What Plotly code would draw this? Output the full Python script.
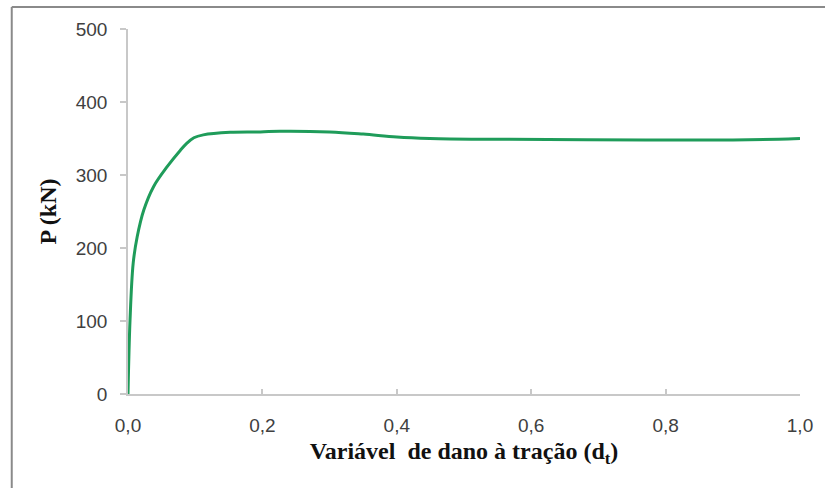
import plotly.graph_objects as go

# Data
dano = [0, 0.003, 0.0077, 0.0136, 0.0235, 0.038, 0.058, 0.078, 0.087, 0.098, 0.112,
        0.152, 0.197, 0.226, 0.30, 0.35, 0.40, 0.449, 0.523, 0.567, 0.77,
        0.90, 0.968, 1.0]
carga = [0, 101, 179, 215, 252, 284, 311, 334, 343, 351, 355,
         358.5, 359, 360, 359, 356, 352, 350, 349, 349, 348,
         348, 349, 350]

x_ticks = [0, 0.2, 0.4, 0.6, 0.8, 1.0]
x_tick_labels = ["0,0", "0,2", "0,4", "0,6", "0,8", "1,0"]
y_ticks = [0, 100, 200, 300, 400, 500]
y_tick_labels = ["0", "100", "200", "300", "400", "500"]

fig = go.Figure()
fig.add_trace(go.Scatter(
    x=dano, y=carga, mode="lines",
    line=dict(color="#1f9c5a", width=3, shape="spline", smoothing=1.0),
    showlegend=False, hoverinfo="skip"))

tick_font = dict(family="Liberation Sans, Arial, sans-serif", size=19, color="#404040")
title_font = dict(family="Liberation Serif, Times New Roman, serif", size=24, color="#111111")

fig.update_layout(
    width=825, height=488,
    margin=dict(l=128, r=23, t=29, b=94),
    paper_bgcolor="white", plot_bgcolor="white",
    xaxis=dict(
        range=[0, 1], tickvals=x_ticks, ticktext=x_tick_labels,
        showgrid=False, zeroline=False, showline=True, linecolor="#c8c8c8", linewidth=1.5,
        ticks="inside", ticklen=5, tickcolor="#c8c8c8", tickwidth=1.5,
        tickfont=tick_font, ticklabelstandoff=13,
        title=dict(text="<b>Variável  de dano à tração (d<sub>t</sub>)</b>", font=title_font, standoff=8),
    ),
    yaxis=dict(
        range=[0, 500], tickvals=y_ticks, ticktext=y_tick_labels,
        showgrid=False, zeroline=False, showline=True, linecolor="#c8c8c8", linewidth=1.5,
        ticks="outside", ticklen=6, tickcolor="#c8c8c8", tickwidth=1.5,
        tickfont=tick_font, ticklabelstandoff=9,
        title=dict(text="<b>P (kN)</b>", font=title_font, standoff=12),
    ),
    shapes=[
        dict(type="line", xref="paper", yref="paper", x0=-0.173, x1=-0.173, y0=-0.3, y1=1.06,
             line=dict(color="#8a8a8a", width=2)),
        dict(type="line", xref="paper", yref="paper", x0=-0.173, x1=1.1, y0=1.06, y1=1.06,
             line=dict(color="#8a8a8a", width=2)),
    ],
)

fig.write_html("out.html")
